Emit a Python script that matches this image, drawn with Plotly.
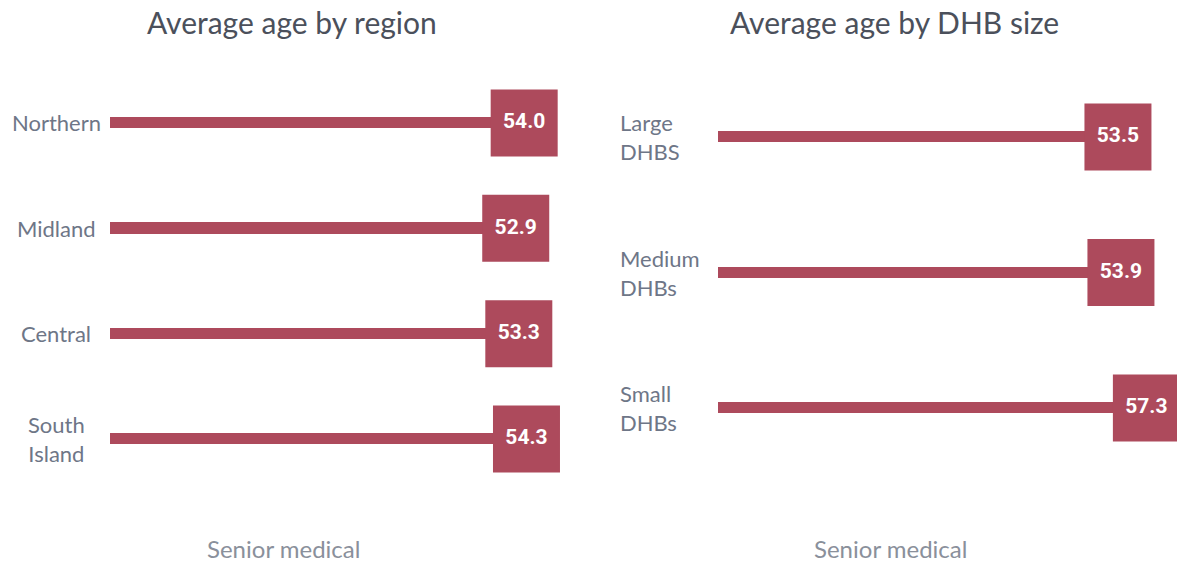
import plotly.graph_objects as go

# Average age, senior medical workforce
regions = ["Northern", "Midland", "Central", "South<br>Island"]
region_age = [54.0, 52.9, 53.3, 54.3]

dhb_sizes = ["Large<br>DHBS", "Medium<br>DHBs", "Small<br>DHBs"]
dhb_age = [53.5, 53.9, 57.3]

panel_titles = ["Average age by region", "Average age by DHB size"]
panel_caption = "Senior medical"

BAR = "#AD4A5C"
LABEL = "#6E7687"
TITLE = "#4B505B"
CAPTION = "#8A909B"
W, H = 1177, 564
TEXT_FONT = "Lato, 'Open Sans', sans-serif"
VALUE_FONT = "'Liberation Sans Narrow', 'Arial Narrow', Roboto, sans-serif"


def px_x(p):
    return p / W


def px_y(p):
    return 1 - p / H


fig = go.Figure()


def add_panel(cats, vals, xa, ya, bar_w):
    fig.add_trace(go.Bar(
        x=vals, y=cats, orientation="h", width=bar_w,
        marker=dict(color=BAR, line=dict(width=0)),
        xaxis=xa, yaxis=ya, hoverinfo="skip", showlegend=False,
    ))
    fig.add_trace(go.Scatter(
        x=vals, y=cats, mode="markers+text",
        marker=dict(symbol="square", size=67, color=BAR, line=dict(width=0)),
        text=[f"{v:.1f}" for v in vals], textposition="middle center",
        textfont=dict(family=VALUE_FONT, size=21, color="white"),
        texttemplate="<b>%{text}</b>",
        xaxis=xa, yaxis=ya, cliponaxis=False, hoverinfo="skip", showlegend=False,
    ))


add_panel(regions, region_age, "x", "y", 0.105)
add_panel(dhb_sizes, dhb_age, "x2", "y2", 0.082)

axis_common = dict(showgrid=False, zeroline=False, showline=False,
                   showticklabels=False, ticks="", fixedrange=True)

fig.update_layout(
    width=W, height=H,
    margin=dict(l=0, r=0, t=0, b=0),
    paper_bgcolor="white", plot_bgcolor="white",
    bargap=0,
    xaxis=dict(domain=[px_x(110), px_x(570.2)], range=[0, 60], **axis_common),
    yaxis=dict(domain=[px_y(491.7), px_y(70.3)], range=[3.5, -0.5],
               type="category", **axis_common),
    xaxis2=dict(domain=[px_x(717.5), px_x(1166.6)], range=[0, 60], anchor="y2",
                **axis_common),
    yaxis2=dict(domain=[px_y(475.75), px_y(69.25)], range=[2.5, -0.5],
                type="category", anchor="x2", **axis_common),
)

annotations = []
# category labels
for c in regions:
    annotations.append(dict(
        x=px_x(56), y=c, xref="paper", yref="y", text=c, showarrow=False,
        xanchor="center", yanchor="middle", align="center",
        font=dict(family=TEXT_FONT, size=22, color=LABEL)))
for c in dhb_sizes:
    annotations.append(dict(
        x=px_x(618), y=c, xref="paper", yref="y2", text=c, showarrow=False,
        xanchor="left", yanchor="middle", align="left",
        font=dict(family=TEXT_FONT, size=22, color=LABEL)))

# panel titles and captions
for title, cx_title, cx_cap in zip(panel_titles, [292, 894], [283, 890]):
    annotations.append(dict(
        x=px_x(cx_title), y=px_y(22), xref="paper", yref="paper", text=title,
        showarrow=False, xanchor="center", yanchor="middle",
        font=dict(family=TEXT_FONT, size=30, color=TITLE)))
    annotations.append(dict(
        x=px_x(cx_cap), y=0, xref="paper", yref="paper", text=panel_caption,
        showarrow=False, xanchor="center", yanchor="bottom", borderpad=0,
        font=dict(family=TEXT_FONT, size=24, color=CAPTION)))

fig.update_layout(annotations=annotations)

fig.write_html("out.html", config={"displayModeBar": False})
